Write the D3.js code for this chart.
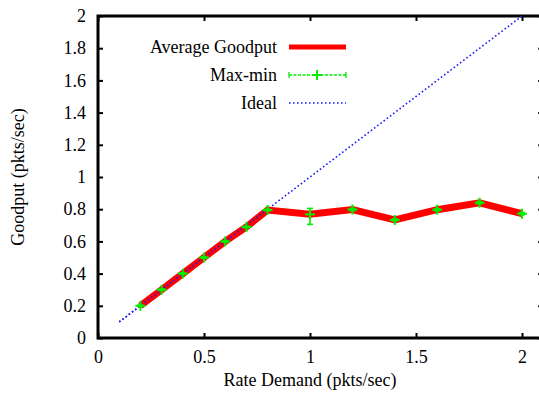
<!DOCTYPE html>
<html><head><meta charset="utf-8">
<script src="https://d3js.org/d3.v7.min.js"></script>
<style>body{margin:0;background:#fff}svg{display:block}
svg text{font-family:'Liberation Serif','DejaVu Serif','Times New Roman',serif !important;}</style>
</head><body>
<script>
const rates = [0.2,0.3,0.4,0.5,0.6,0.7,0.8,1.0,1.2,1.4,1.6,1.8,2.0];
const avgGoodput = [0.2,0.3,0.4,0.5,0.6,0.69,0.795,0.768,0.798,0.733,0.797,0.84,0.772];
const maxGoodput = [0.205,0.305,0.405,0.505,0.605,0.695,0.8,0.805,0.805,0.74,0.803,0.848,0.78];
const minGoodput = [0.195,0.295,0.395,0.495,0.595,0.685,0.79,0.706,0.79,0.728,0.79,0.834,0.765];
const idealX = [0.1,2.0];
const xTicks = [0,0.5,1,1.5,2];
const yTicks = [0,0.2,0.4,0.6,0.8,1,1.2,1.4,1.6,1.8,2];
const legendLabels = ["Average Goodput","Max-min","Ideal"];

const W=539,H=396;
const svg=d3.select("body").append("svg").attr("width",W).attr("height",H);
const x=d3.scaleLinear().domain([0,2.1]).range([98,543.2]);
const y=d3.scaleLinear().domain([0,2]).range([338,16]);

const gx=svg.append("g").attr("transform","translate(0,338)")
  .call(d3.axisBottom(x).tickValues(xTicks).tickFormat(d3.format("")).tickSizeInner(-5).tickSizeOuter(0).tickPadding(12));
const gxt=svg.append("g").attr("transform","translate(0,16)")
  .call(d3.axisTop(x).tickValues(xTicks).tickFormat("").tickSizeInner(-5).tickSizeOuter(0));
const gy=svg.append("g").attr("transform","translate(98,0)")
  .call(d3.axisLeft(y).tickValues(yTicks).tickFormat(d3.format("")).tickSizeInner(-5).tickSizeOuter(0).tickPadding(12));
const gyr=svg.append("g").attr("transform","translate(543.2,0)")
  .call(d3.axisRight(y).tickValues(yTicks).tickFormat("").tickSizeInner(-5).tickSizeOuter(0));
[gx,gxt,gy,gyr].forEach(g=>{
  g.attr("font-size",18);
  g.select(".domain").remove();
  g.selectAll(".tick line").attr("stroke","#000").attr("stroke-width",2);
  g.selectAll("text").attr("fill","#000");
});
gx.selectAll("text").attr("dy","0.71em");
svg.append("rect").attr("x",98).attr("y",16).attr("width",543.2-98).attr("height",338-16)
  .attr("fill","none").attr("stroke","#000").attr("stroke-width",3);

const blue="#1a1aff";
svg.append("line").attr("x1",x(idealX[0])).attr("y1",y(idealX[0])).attr("x2",x(idealX[1])).attr("y2",y(idealX[1]))
  .attr("stroke",blue).attr("stroke-width",1.6).attr("stroke-dasharray","1.6,2.4");

const line=d3.line().x((d,i)=>x(rates[i])).y(d=>y(d));
svg.append("path").datum(avgGoodput).attr("d",line).attr("fill","none").attr("stroke","#ff0000").attr("stroke-width",7).attr("stroke-linejoin","miter");
svg.append("line").attr("x1",x(idealX[0])).attr("y1",y(idealX[0])).attr("x2",x(0.8)).attr("y2",y(0.8))
  .attr("stroke",blue).attr("stroke-width",1.6).attr("stroke-dasharray","1.6,2.4");

const green="#00ee00";
const eb=svg.append("g").attr("stroke",green).attr("stroke-width",1.6);
rates.forEach((r,i)=>{
  const cx=x(r);
  eb.append("line").attr("x1",cx).attr("x2",cx).attr("y1",y(maxGoodput[i])).attr("y2",y(minGoodput[i]));
  eb.append("line").attr("x1",cx-3).attr("x2",cx+3).attr("y1",y(maxGoodput[i])).attr("y2",y(maxGoodput[i]));
  eb.append("line").attr("x1",cx-3).attr("x2",cx+3).attr("y1",y(minGoodput[i])).attr("y2",y(minGoodput[i]));
  eb.append("line").attr("x1",cx-5).attr("x2",cx+5).attr("y1",y(avgGoodput[i])).attr("y2",y(avgGoodput[i])).attr("stroke-width",2);
  eb.append("line").attr("x1",cx).attr("x2",cx).attr("y1",y(avgGoodput[i])-5).attr("y2",y(avgGoodput[i])+5).attr("stroke-width",2);
});

const ly=[47,75,103];
legendLabels.forEach((t,i)=>{
  svg.append("text").attr("x",277).attr("y",ly[i]).attr("dy","0.35em").attr("text-anchor","end")
    .attr("font-size",18).text(t);
});
svg.append("line").attr("x1",289).attr("x2",346).attr("y1",ly[0]).attr("y2",ly[0]).attr("stroke","#ff0000").attr("stroke-width",5);
svg.append("line").attr("x1",289).attr("x2",346).attr("y1",ly[1]).attr("y2",ly[1]).attr("stroke",green).attr("stroke-width",1.3).attr("stroke-dasharray","3,1.5");
svg.append("line").attr("x1",289).attr("x2",289).attr("y1",ly[1]-3).attr("y2",ly[1]+3).attr("stroke",green).attr("stroke-width",1.3);
svg.append("line").attr("x1",346).attr("x2",346).attr("y1",ly[1]-3).attr("y2",ly[1]+3).attr("stroke",green).attr("stroke-width",1.3);
svg.append("line").attr("x1",312).attr("x2",322).attr("y1",ly[1]).attr("y2",ly[1]).attr("stroke",green).attr("stroke-width",2);
svg.append("line").attr("x1",317).attr("x2",317).attr("y1",ly[1]-5).attr("y2",ly[1]+5).attr("stroke",green).attr("stroke-width",2);
svg.append("line").attr("x1",289).attr("x2",346).attr("y1",ly[2]).attr("y2",ly[2]).attr("stroke",blue).attr("stroke-width",1.6).attr("stroke-dasharray","1.6,2.4");

svg.append("text").attr("x",310).attr("y",386).attr("text-anchor","middle").attr("font-size",18).text("Rate Demand (pkts/sec)");
svg.append("text").attr("transform","translate(24,177) rotate(-90)").attr("text-anchor","middle").attr("font-size",18).text("Goodput (pkts/sec)");
</script>
</body></html>
